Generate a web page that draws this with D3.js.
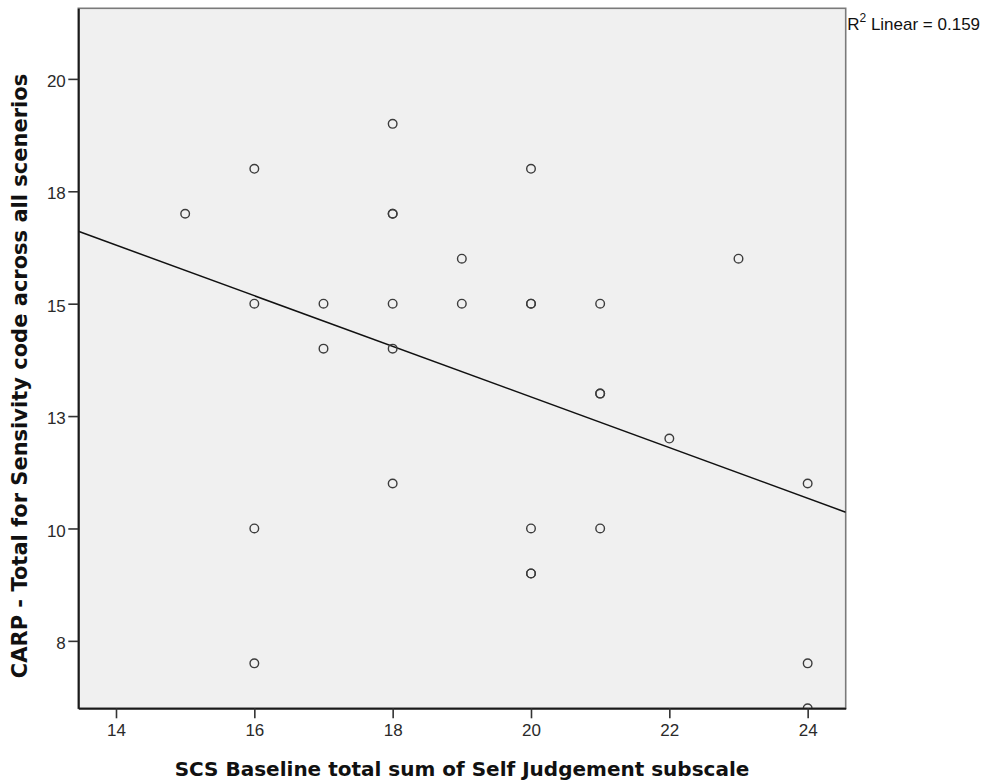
<!DOCTYPE html>
<html>
<head>
<meta charset="utf-8">
<script src="https://cdn.jsdelivr.net/npm/d3@7"></script>
<style>
  html, body { margin: 0; padding: 0; background: #ffffff; }
  svg { display: block; }
</style>
</head>
<body>
<svg id="chart" width="988" height="784"></svg>
<script>
// Scatter of self-judgement baseline scores against CARP sensitivity totals.
// Repeated cases are listed once per case (they overprint on the chart).
const scsScores = [15, 16, 16, 16, 16, 17, 17, 18, 18, 18, 18, 18, 18, 19, 19,
                   20, 20, 20, 20, 20, 20, 21, 21, 21, 21, 22, 23, 24, 24, 24];
const carpTotals = [17, 18, 15, 10, 7, 15, 14, 19, 17, 17, 15, 14, 11, 16, 15,
                    18, 15, 15, 10, 9, 9, 15, 13, 13, 10, 12, 16, 11, 7, 6];

const xTicks = [14, 16, 18, 20, 22, 24];
const yTicks = [7.5, 10, 12.5, 15, 17.5, 20];
const yTickLabels = ["8", "10", "13", "15", "18", "20"];

const xDomain = [13.455, 24.55];
const yDomain = [6.0, 21.57];

const xTitle = "SCS Baseline total sum of Self Judgement subscale";
const yTitle = "CARP - Total for Sensivity code across all scenerios";

// Plot frame
const plot = { left: 78.3, top: 8.3, right: 845.7, bottom: 708.3 };

const svg = d3.select("#chart");

const x = d3.scaleLinear().domain(xDomain).range([plot.left, plot.right]);
const y = d3.scaleLinear().domain(yDomain).range([plot.bottom, plot.top]);

// Least-squares fit and R squared
const n = scsScores.length;
const mx = d3.mean(scsScores), my = d3.mean(carpTotals);
let sxy = 0, sxx = 0, syy = 0;
for (let i = 0; i < n; i++) {
  const dx = scsScores[i] - mx, dy = carpTotals[i] - my;
  sxy += dx * dy; sxx += dx * dx; syy += dy * dy;
}
const slope = sxy / sxx;
const intercept = my - slope * mx;
const rSquared = (sxy * sxy) / (sxx * syy);

// Background panel
svg.append("rect")
  .attr("x", plot.left).attr("y", plot.top)
  .attr("width", plot.right - plot.left)
  .attr("height", plot.bottom - plot.top)
  .attr("fill", "#f0f0f0")
  .attr("stroke", "#7a7a7a")
  .attr("stroke-width", 1.6);

svg.append("clipPath").attr("id", "plotClip")
  .append("rect")
  .attr("x", plot.left).attr("y", plot.top)
  .attr("width", plot.right - plot.left)
  .attr("height", plot.bottom - plot.top);

const inner = svg.append("g").attr("clip-path", "url(#plotClip)");

// Fit line across the full x range
inner.append("line")
  .attr("x1", x(xDomain[0])).attr("y1", y(intercept + slope * xDomain[0]))
  .attr("x2", x(xDomain[1])).attr("y2", y(intercept + slope * xDomain[1]))
  .attr("stroke", "#111")
  .attr("stroke-width", 1.5);

// Points
inner.selectAll("circle.pt")
  .data(d3.range(n))
  .join("circle")
  .attr("class", "pt")
  .attr("cx", i => x(scsScores[i]))
  .attr("cy", i => y(carpTotals[i]))
  .attr("r", 4.3)
  .attr("fill", "none")
  .attr("stroke", "#3c3c3c")
  .attr("stroke-width", 1.4);

// Axes
const tickFont = "'Liberation Sans', Arial, sans-serif";

const xAxis = d3.axisBottom(x)
  .tickValues(xTicks)
  .tickFormat(d3.format("d"))
  .tickSizeInner(10)
  .tickSizeOuter(0)
  .tickPadding(5.5);

const yAxis = d3.axisLeft(y)
  .tickValues(yTicks)
  .tickFormat((d, i) => yTickLabels[i])
  .tickSizeInner(10)
  .tickSizeOuter(0)
  .tickPadding(2.5);

const gx = svg.append("g")
  .attr("transform", `translate(0,${plot.bottom})`)
  .call(xAxis);

const gy = svg.append("g")
  .attr("transform", `translate(${plot.left},0)`)
  .call(yAxis);

[gx, gy].forEach(g => {
  g.select(".domain").attr("stroke", "#1a1a1a").attr("stroke-width", 2);
  g.selectAll(".tick line").attr("stroke", "#333").attr("stroke-width", 1.6);
  g.selectAll(".tick text")
    .attr("fill", "#2a2a2a")
    .style("font-family", tickFont)
    .style("font-size", "17px");
});
gy.selectAll(".tick text").attr("dy", "0.45em");

// Axis titles
const titleFont = "'DejaVu Sans', Verdana, sans-serif";

svg.append("text")
  .attr("x", (plot.left + plot.right) / 2)
  .attr("y", 776)
  .attr("text-anchor", "middle")
  .style("font-family", titleFont)
  .style("font-weight", "bold")
  .style("font-size", "20px")
  .attr("fill", "#111")
  .text(xTitle);

svg.append("text")
  .attr("transform", "translate(27,376) rotate(-90)")
  .attr("text-anchor", "middle")
  .style("font-family", titleFont)
  .style("font-weight", "bold")
  .style("font-size", "21px")
  .attr("fill", "#111")
  .text(yTitle);

// Fit annotation
const note = svg.append("text")
  .attr("x", plot.right + 1.5)
  .attr("y", 30)
  .style("font-family", tickFont)
  .style("font-size", "17px")
  .attr("fill", "#111");
note.append("tspan").text("R");
note.append("tspan").attr("dy", -8).style("font-size", "12px").text("2");
note.append("tspan").attr("dy", 8).text(" Linear = " + d3.format(".3f")(rSquared));
</script>
</body>
</html>
